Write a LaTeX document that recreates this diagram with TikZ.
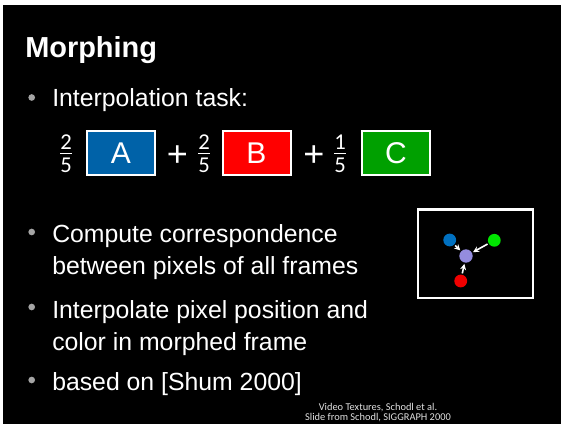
\documentclass[tikz,border=0pt]{standalone}
\usepackage{fontspec}
\setmainfont{Liberation Sans}
\newfontfamily\calib{Carlito}
\usetikzlibrary{arrows.meta}
\definecolor{boxblue}{RGB}{0,98,168}
\definecolor{boxred}{RGB}{255,0,0}
\definecolor{boxgreen}{RGB}{0,160,0}
\definecolor{bulletgray}{RGB}{165,165,165}
\definecolor{dotblue}{RGB}{0,112,192}
\definecolor{dotgreen}{RGB}{0,230,0}
\definecolor{dotred}{RGB}{240,0,0}
\definecolor{dotpurple}{RGB}{148,140,222}
\tikzset{
  title/.style={anchor=base west, inner sep=0pt, text=white, font=\fontsize{21.7pt}{26pt}\selectfont\bfseries},
  body/.style={anchor=base west, inner sep=0pt, text=white, font=\fontsize{18.6pt}{22pt}\selectfont},
  bulletdot/.style={circle, fill=bulletgray, inner sep=0pt, minimum size=5pt},
  fracdigit/.style={inner sep=0pt, text=white, font=\calib\fontsize{17pt}{20pt}\selectfont},
  fracbar/.style={white, line width=1.1pt},
  plussign/.style={inner sep=0pt, text=white, font=\fontsize{27pt}{30pt}\selectfont},
  letterbox/.style={draw=white, line width=1.5pt, minimum width=51pt, minimum height=33pt, inner sep=0pt,
    text=white, font=\fontsize{22.5pt}{26pt}\selectfont},
  dot/.style={circle, inner sep=0pt, minimum size=9.6pt},
  flow/.style={white, line width=1.2pt, -{Stealth[length=4.5pt,width=4.5pt]}, shorten >=0.8pt, shorten <=0.8pt},
  footer/.style={anchor=base, inner sep=0pt, text=white!88!black, font=\calib\fontsize{7.8pt}{9pt}\selectfont}
}
\begin{document}
\begin{tikzpicture}[x=0.75pt,y=-0.75pt]
\useasboundingbox (0,0) rectangle (561,424);
\fill[white] (0,0) rectangle (561,424);
\fill[black] (3,5) rectangle (561,424);

% heading
\node[title] (head) at (25,58) {Morphing};

% first bullet and the weighted sum
\node[bulletdot] (b1) at (31.7,97.5) {};
\node[body] (t1) at (52,107) {Interpolation task:};

\node[fracdigit] (n1) at (66,142) {2};
\node[fracdigit] (d1) at (66,165) {5};
\draw[fracbar] (60,153.5) -- (72,153.5);
\node[letterbox, fill=boxblue] (boxA) at (121,153) {A};
\node[plussign] (p1) at (177.5,156) {+};
\node[fracdigit] (n2) at (204,142) {2};
\node[fracdigit] (d2) at (204,165) {5};
\draw[fracbar] (198,153.5) -- (210,153.5);
\node[letterbox, fill=boxred] (boxB) at (256.5,153) {B};
\node[plussign] (p2) at (314,156) {+};
\node[fracdigit] (n3) at (340,142) {1};
\node[fracdigit] (d3) at (340,165) {5};
\draw[fracbar] (334,153.5) -- (346,153.5);
\node[letterbox, fill=boxgreen] (boxC) at (396,153.5) {C};

% remaining bullets
\node[bulletdot] (b2) at (31.7,232) {};
\node[body] (t2a) at (52,243) {Compute correspondence};
\node[body] (t2b) at (52,275) {between pixels of all frames};
\node[bulletdot] (b3) at (31.7,307) {};
\node[body] (t3a) at (52,318.5) {Interpolate pixel position and};
\node[body] (t3b) at (52,350.5) {color in morphed frame};
\node[bulletdot] (b4) at (31.7,380) {};
\node[body] (t4) at (52,390.5) {based on [Shum 2000]};

% correspondence sketch
\draw[white, line width=2.2pt] (418,209.5) rectangle (533,298);
\node[dot, fill=dotblue] (cb) at (449.7,240) {};
\node[dot, fill=dotgreen] (cg) at (494.3,240.3) {};
\node[dot, fill=dotred] (cr) at (460.7,281) {};
\node[dot, fill=dotpurple, minimum size=10pt] (cp) at (466,256) {};
\draw[flow] (cb) -- (cp);
\draw[flow] (cg) -- (cp);
\draw[flow] (cr) -- (cp);

% source credit
\node[footer] (f1) at (378,410) {Video Textures, Schodl et al.};
\node[footer] (f2) at (378,420) {Slide from Schodl, SIGGRAPH 2000};
\end{tikzpicture}
\end{document}
